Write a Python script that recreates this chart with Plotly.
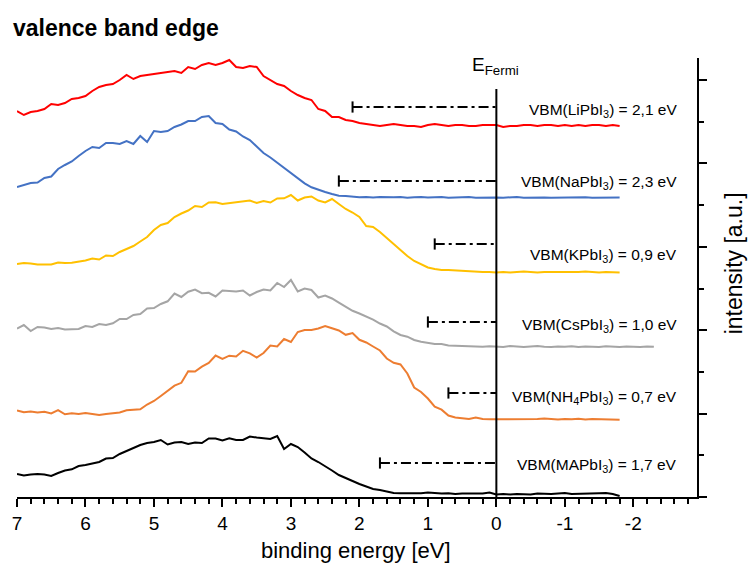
import plotly.graph_objects as go

# binding energy grid (eV), 0.1 eV steps
energy = [round(7.0 - 0.1 * i, 1) for i in range(89)]      # 7.0 ... -1.8
energy_cs = [round(7.0 - 0.1 * i, 1) for i in range(94)]   # 7.0 ... -2.3

# intensities (a.u., stacked offsets as in the figure)
li = [386, 382, 385, 386, 388, 393, 392, 394, 398, 399,
      401, 406, 410, 412, 413, 417, 422, 418, 421, 422,
      423, 424, 425, 426, 424, 430, 428, 432, 434, 432,
      434, 437, 430, 429, 431, 430, 421, 417, 413, 411,
      406, 402, 399, 397, 388, 386, 380, 380, 377, 376,
      374, 373, 372, 371, 372, 373, 372, 371, 371, 370,
      372, 373, 372, 371, 372, 372, 371, 371, 372, 372,
      372, 370, 371, 371, 372, 372, 371, 372, 372, 371,
      372, 371, 372, 371, 372, 372, 371, 372, 371]

na = [310, 312, 314, 314.5, 319, 320.5, 328, 332, 335.5, 341,
      346, 350, 349, 354, 354, 353, 356, 353, 361, 355,
      366, 365, 366, 370, 372.5, 376, 376, 380, 381, 374,
      373, 367.5, 365.5, 360.5, 357, 350.5, 344, 339.5, 334.5, 329.5,
      324.5, 318.7, 313.7, 309.7, 307, 305, 303, 301.3, 301, 300.3,
      299.7, 300, 299.5, 300, 299.5, 299.7, 300, 299.3, 299.7, 300,
      299.5, 299.7, 300, 299.3, 299.7, 299.5, 300, 299.3, 299.5, 300,
      299.5, 299.3, 299.7, 300, 299.3, 299.5, 299.7, 299.5, 299.3, 299.5,
      299.7, 299.3, 299.5, 299.7, 299.3, 299.5, 299.7, 299.3, 299.5]

k = [233, 234, 233.5, 232.5, 232.5, 232.5, 234.5, 234, 234.3, 235.5,
     236.5, 238.5, 237.5, 241.5, 241, 245, 248, 251, 255.5, 260,
     267, 272, 274, 280, 283.5, 286.5, 291, 290, 294.5, 294.7,
     293, 293.7, 295, 295.5, 296.5, 294, 296, 294.5, 298.5, 298.7,
     302, 296.5, 299.5, 300.5, 296.5, 294.5, 298, 293, 288, 284.5,
     280, 271, 270, 265, 259, 253.5, 247, 241, 236, 232.5,
     229.5, 228, 227, 227, 226.5, 226, 226, 225.5, 225, 225,
     224.5, 225, 224.5, 225, 225.5, 225, 224.5, 225, 225, 224.5,
     225, 224.5, 225, 225.5, 225, 224.5, 225, 224.5, 224.5]

cs = [168.5, 172, 166, 170, 169.5, 168, 169, 167.5, 167.7, 168,
      171, 170, 173, 172, 173.7, 178, 178, 182, 183, 188.5,
      189, 193, 195.7, 203.5, 200, 205.3, 207.5, 203.8, 204.2, 200.5,
      206.5, 206, 205.5, 206.5, 201.5, 205, 207.5, 206.5, 214, 210,
      217, 205.5, 208.5, 207, 199.5, 201.5, 198.5, 194.3, 190, 186.2,
      183.5, 180.5, 177.3, 173.5, 170.5, 165.7, 162, 160.3, 157, 155.3,
      154.2, 153, 153, 151.5, 151.3, 151, 150.5, 150.5, 150.3, 150.8,
      150.3, 150, 151, 150.3, 150, 150.5, 151, 150.2, 150, 150.6,
      150.2, 150.8, 150, 150.5, 150.2, 150, 150.7, 150.3, 150, 150.5,
      150.2, 150, 150.6, 150.2]

nh4 = [86.5, 84.7, 85.5, 84.5, 85.3, 83.5, 86.8, 82.7, 83.7, 83,
       84, 82.7, 82, 83, 83.7, 84.5, 86.7, 87.2, 87.7, 92.5,
       96, 101, 106, 111.3, 114.2, 125.8, 125.5, 130.4, 134, 141.5,
       138.2, 141.3, 140.5, 146.2, 143.7, 139.5, 144, 151.5, 150.5, 158,
       155, 165, 167, 167, 168.5, 171, 168.7, 166.5, 162.2, 164,
       157.2, 154.5, 150.5, 146.5, 138.5, 134.2, 132.5, 123.5, 109.5, 105,
       98.5, 90.3, 87.3, 81.5, 79.5, 79, 78, 79.5, 78, 77.7,
       77.7, 78, 77.5, 78.2, 77.8, 77.5, 78, 78.5, 77.8, 77.5,
       78, 77.7, 78.3, 77.5, 78, 77.8, 77.5, 78, 77.2]

ma = [23, 21.5, 22.5, 23, 22.5, 21, 24, 26.5, 27.7, 31,
      32, 33.7, 35, 38.5, 39, 43, 46, 49.5, 52, 54,
      55, 57, 52.5, 54.5, 55, 53, 54.5, 54, 58.5, 58.5,
      56.5, 58.7, 57, 57, 60.5, 59.5, 58.5, 58, 61, 48,
      53, 50, 44.5, 38.5, 35, 31, 26.5, 22, 19.3, 16,
      13, 10.5, 8, 7, 5.5, 4, 3.7, 3.5, 3.5, 3.8,
      4.5, 3.7, 3.5, 3.7, 3, 3.5, 3.7, 4, 3.5, 4.5,
      2.5, 3, 2.5, 3, 3, 2.5, 3.5, 3, 3, 3.5,
      4, 3, 3, 3.5, 3.5, 3.7, 4, 3, 1]

compounds = ["LiPbI<sub>3</sub>", "NaPbI<sub>3</sub>", "KPbI<sub>3</sub>",
             "CsPbI<sub>3</sub>", "NH<sub>4</sub>PbI<sub>3</sub>", "MAPbI<sub>3</sub>"]
vbm = [2.1, 2.3, 0.9, 1.0, 0.7, 1.7]
vbm_level = [390, 316, 253, 175, 104, 34]
label_level = [387, 315, 242, 172, 100, 32]
colors = ["#FF0000", "#4472C4", "#FFC000", "#A5A5A5", "#ED7D31", "#000000"]
curves = [(energy, li), (energy, na), (energy, k), (energy_cs, cs), (energy, nh4), (energy, ma)]

FONT = "Arial, Liberation Sans, sans-serif"

fig = go.Figure()

for (x, y), c, name in zip(curves, colors, compounds):
    fig.add_trace(go.Scatter(x=x, y=y, mode="lines", line=dict(color=c, width=2),
                             name=name, showlegend=False, hoverinfo="skip"))

# Fermi level line
fig.add_trace(go.Scatter(x=[0, 0], y=[0, 408], mode="lines",
                         line=dict(color="black", width=2), showlegend=False))

# VBM dash-dot indicators
for v, lev in zip(vbm, vbm_level):
    fig.add_trace(go.Scatter(x=[v, 0], y=[lev, lev], mode="lines",
                             line=dict(color="black", width=2, dash="10px,4px,3px,4px"),
                             showlegend=False))
    fig.add_trace(go.Scatter(x=[v], y=[lev], mode="markers",
                             marker=dict(symbol="line-ns-open", size=8, color="black",
                                         line=dict(color="black", width=2)),
                             showlegend=False))

annotations = []
for comp, v, lev in zip(compounds, vbm, label_level):
    txt = "VBM(" + comp + ") = " + f"{v:.1f}".replace(".", ",") + " eV"
    annotations.append(dict(x=-2.668, y=lev, xref="x", yref="y", text=txt,
                            showarrow=False, xanchor="right", yanchor="middle",
                            font=dict(family=FONT, size=15.5, color="black")))

annotations.append(dict(x=0.39, y=431, xref="x", yref="y", text="E<sub>Fermi</sub>",
                        showarrow=False, xanchor="left", yanchor="middle",
                        font=dict(family=FONT, size=19, color="black")))

annotations.append(dict(x=0.4985, y=-0.123, xref="paper", yref="paper",
                        text="binding energy [eV]", showarrow=False,
                        xanchor="center", yanchor="middle",
                        font=dict(family=FONT, size=22, color="black")))

annotations.append(dict(x=1.0557, y=0.532, xref="paper", yref="paper",
                        text="intensity [a.u.]", showarrow=False, textangle=-90,
                        xanchor="center", yanchor="middle",
                        font=dict(family=FONT, size=23, color="black")))

tick_vals = [7, 6, 5, 4, 3, 2, 1, 0, -1, -2]
tick_text = [str(t) for t in tick_vals]

fig.update_layout(
    width=748, height=569,
    margin=dict(l=15, r=51, t=58, b=72),
    paper_bgcolor="white", plot_bgcolor="white",
    title=dict(text="<b>valence band edge</b>", x=13 / 748, xanchor="left",
               y=1 - 27.5 / 569, yanchor="middle", xref="container", yref="container",
               font=dict(family=FONT, size=23, color="black")),
    annotations=annotations,
    xaxis=dict(range=[7, -2.93], showgrid=False, zeroline=False,
               showline=True, linecolor="black", linewidth=2,
               ticks="outside", ticklen=8, tickwidth=1.5, tickcolor="black",
               tickmode="array", tickvals=tick_vals, ticktext=tick_text,
               tickfont=dict(family=FONT, size=19, color="black"),
               minor=dict(tickmode="linear", tick0=0, dtick=0.2, ticks="outside",
                          ticklen=5, tickwidth=1.5, tickcolor="black")),
    yaxis=dict(range=[0, 439], side="right", showgrid=False, zeroline=False,
               showline=True, linecolor="black", linewidth=2,
               ticks="outside", ticklen=8, tickwidth=1.5, tickcolor="black",
               tickmode="linear", tick0=0, dtick=83.4, showticklabels=False,
               minor=dict(tickmode="linear", tick0=0, dtick=41.7, ticks="outside",
                          ticklen=5, tickwidth=1.5, tickcolor="black")),
)

fig.write_html("out.html")
